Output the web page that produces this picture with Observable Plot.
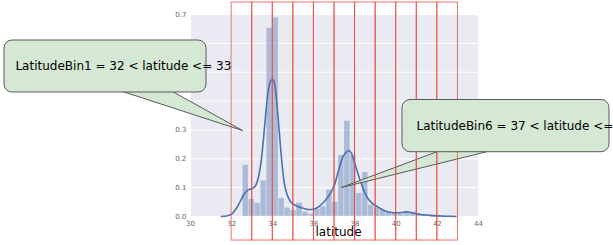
<!DOCTYPE html>
<html>
<head>
<meta charset="utf-8">
<script src="https://cdn.jsdelivr.net/npm/d3@7"></script>
<script src="https://cdn.jsdelivr.net/npm/@observablehq/plot@0.6"></script>
<style>
  html, body { margin: 0; padding: 0; background: white; overflow: hidden; }
  #chart { width: 613px; height: 245px; overflow: hidden; }
</style>
</head>
<body>
<div id="chart"></div>
<script>
// ---- data ----
const xTicks = [30, 32, 34, 36, 38, 40, 42, 44];
const yTicks = [0, 0.1, 0.2, 0.3, 0.4, 0.5, 0.6, 0.7];
const xLabel = "latitude";

// histogram (density) bins
const binStart = 32.54;
const binWidth = 0.2906;
const binDensity = [
  0.178, 0.060, 0.046, 0.124, 0.653, 0.689, 0.063, 0.030, 0.021, 0.047,
  0.016, 0.009, 0.025, 0.034, 0.092, 0.050, 0.212, 0.331, 0.212, 0.080,
  0.153, 0.040, 0.030, 0.022, 0.016, 0.012, 0.010, 0.018, 0.016, 0.010,
  0.008, 0.006, 0.005, 0.003, 0.002, 0.002
];

// KDE curve
const kdeLat = [31.5, 31.75, 32.0, 32.2, 32.4, 32.6, 32.8, 33.0, 33.15, 33.3, 33.45, 33.6, 33.75, 33.9, 34.0, 34.1, 34.25, 34.4, 34.55, 34.7, 34.85, 35.0, 35.2, 35.4, 35.6, 35.8, 36.0, 36.2, 36.4, 36.6, 36.8, 37.0, 37.2, 37.4, 37.55, 37.7, 37.85, 38.0, 38.2, 38.4, 38.6, 38.8, 39.0, 39.25, 39.5, 39.75, 40.0, 40.25, 40.5, 40.7, 40.9, 41.1, 41.4, 41.7, 42.0, 42.4, 42.9];
const kdeDensity = [0, 0.002, 0.008, 0.025, 0.05, 0.077, 0.092, 0.097, 0.105, 0.135, 0.2, 0.31, 0.42, 0.47, 0.475, 0.455, 0.35, 0.22, 0.12, 0.075, 0.053, 0.043, 0.035, 0.03, 0.026, 0.024, 0.026, 0.032, 0.044, 0.06, 0.08, 0.11, 0.16, 0.205, 0.222, 0.228, 0.215, 0.18, 0.135, 0.095, 0.065, 0.048, 0.038, 0.027, 0.018, 0.014, 0.013, 0.014, 0.016, 0.014, 0.011, 0.008, 0.005, 0.003, 0.002, 0.001, 0];

// latitude bins (red boxes)
const latBinEdges = [32, 33, 34, 35, 36, 37, 38, 39, 40, 41, 42, 43];

// callout texts
const calloutTexts = ["LatitudeBin1 = 32 < latitude <= 33", "LatitudeBin6 = 37 < latitude <= 38"];

// ---- annotation layout (data units) ----
const redTop = 0.7416, redBottom = -0.0832;
const callouts = [
  {text: calloutTexts[0], box: [20.958, 30.778, 0.4297, 0.6099], base: [[26.694, 0.4332], [29.125, 0.4332]], tip: [32.528, 0.298], at: [21.49, 0.5215]},
  {text: calloutTexts[1], box: [40.306, 50.368, 0.2228, 0.4037], base: [[42.007, 0.2252], [44.438, 0.2252]], tip: [37.34, 0.1005], at: [40.986, 0.3136]}
];

const bins = binDensity.map((d, i) => ({x1: binStart + i * binWidth, x2: binStart + (i + 1) * binWidth, y: d}));
const kde = kdeLat.map((x, i) => ({x, y: kdeDensity[i]}));
const boxes = latBinEdges.slice(0, -1).map((e, i) => ({x1: e, x2: latBinEdges[i + 1]}));

const calloutFill = "#d5e8d4", calloutStroke = "#5a5a5a";
function pointer(c) {
  const pts = [c.base[0], c.tip, c.base[1]].map(([x, y]) => ({x, y}));
  return Plot.line(pts, {x: "x", y: "y", fill: calloutFill, stroke: calloutStroke, strokeWidth: 1, curve: "linear"});
}
function box(c) {
  return Plot.rect([c], {x1: d => d.box[0], x2: d => d.box[1], y1: d => d.box[2], y2: d => d.box[3], rx: 8, ry: 8, fill: calloutFill, stroke: calloutStroke, strokeWidth: 1});
}
function label(c) {
  return Plot.text([c], {x: d => d.at[0], y: d => d.at[1], text: d => d.text, textAnchor: "start", fontSize: 12, fill: "black", fontFamily: "DejaVu Sans"});
}

const plot = Plot.plot({
  width: 613,
  height: 245,
  marginLeft: 190,
  marginRight: 135,
  marginTop: 14,
  marginBottom: 29,
  style: {fontFamily: "DejaVu Sans", fontSize: "7px", color: "#666", background: "white", overflow: "visible"},
  x: {domain: [30, 44], ticks: xTicks, tickSize: 0, tickPadding: 5, label: null},
  y: {domain: [0, 0.7], ticks: yTicks, tickSize: 0, tickPadding: 4, label: null, tickFormat: d3.format(".1f")},
  marks: [
    Plot.frame({fill: "#eaeaf2", stroke: "none"}),
    Plot.ruleY(yTicks, {stroke: "white", strokeWidth: 1}),
    Plot.ruleX(xTicks, {stroke: "white", strokeWidth: 1}),
    Plot.rect(bins, {x1: "x1", x2: "x2", y1: () => 0, y2: "y", fill: "#4c72b0", fillOpacity: 0.4, stroke: "white", strokeOpacity: 0.45, strokeWidth: 0.6}),
    Plot.line(kde, {x: "x", y: "y", stroke: "#4c72b0", strokeWidth: 1.6, curve: "monotone-x"}),
    Plot.text([xLabel], {frameAnchor: "bottom", dx: 4, dy: 19, text: d => d, fontSize: 12, fill: "black", fontFamily: "DejaVu Sans"}),
    pointer(callouts[0]),
    box(callouts[0]),
    pointer(callouts[1]),
    Plot.rect(boxes, {x1: "x1", x2: "x2", y1: () => redBottom, y2: () => redTop, fill: "none", stroke: "#e8433a", strokeOpacity: 0.75, strokeWidth: 1}),
    box(callouts[1]),
    label(callouts[0]),
    label(callouts[1])
  ]
});
document.getElementById("chart").appendChild(plot);
</script>
</body>
</html>
